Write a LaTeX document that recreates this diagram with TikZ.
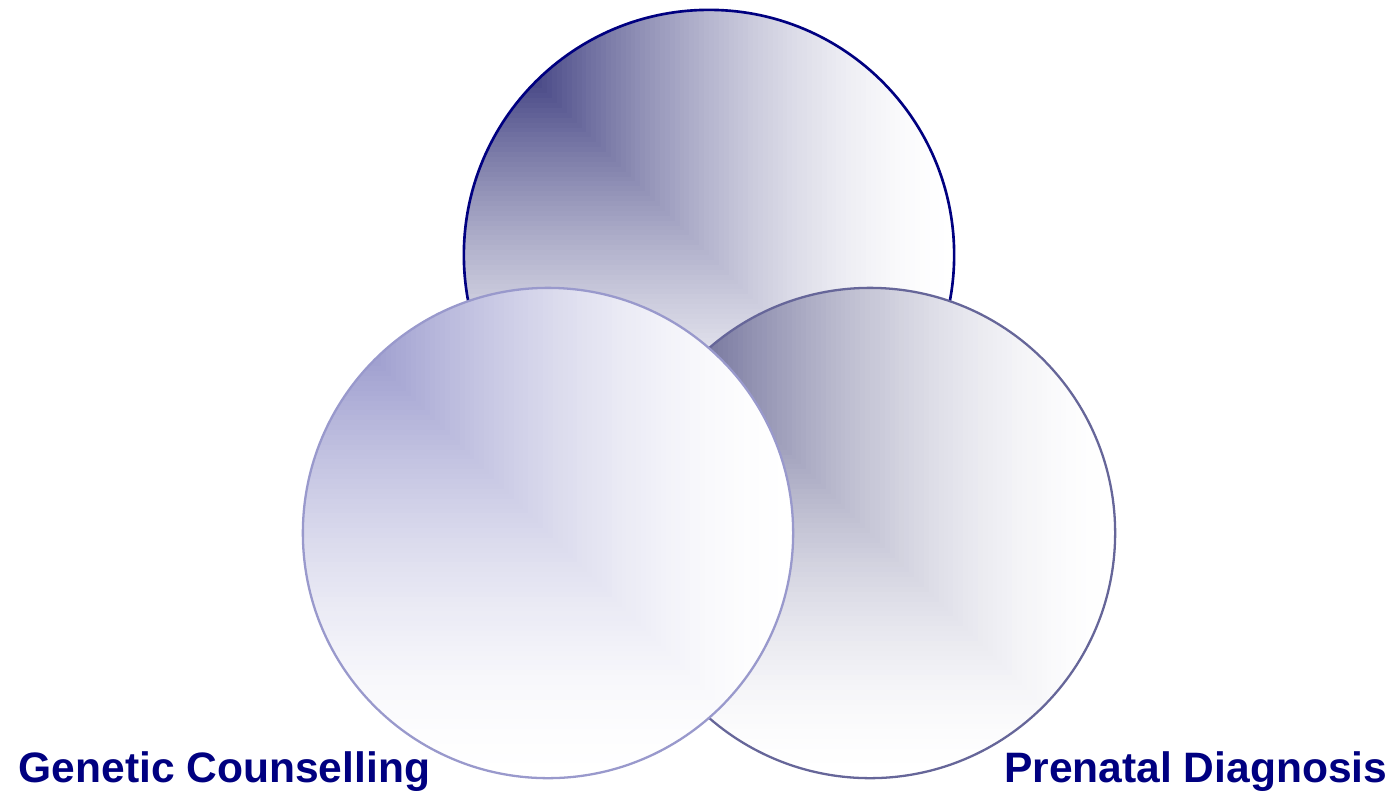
\documentclass[tikz,border=0pt]{standalone}
\usepackage{fontspec}
\setsansfont{Liberation Sans}
\usetikzlibrary{calc}
\definecolor{navytext}{RGB}{0,0,128}
\definecolor{topdark}{RGB}{17,17,98}
\definecolor{topline}{RGB}{0,0,128}
\definecolor{gcdark}{RGB}{130,130,193}
\definecolor{gcline}{RGB}{153,153,204}
\definecolor{pddark}{RGB}{72,72,125}
\definecolor{pdline}{RGB}{102,102,153}

\begin{document}
\begin{tikzpicture}[
            x=0.01cm, y=-0.01cm,
            disc/.style={circle, inner sep=0pt, minimum size=4.9cm, fill=white, line width=0.65pt},
            cornershade/.style={path picture={
                \foreach \i [evaluate=\i as \p using 100*(1-(\i-0.5)/100)^1.7] in {100,99,...,1}
                    \fill[#1!\p] (path picture bounding box.north west) rectangle
                        ($(path picture bounding box.north west)!\i/100!(path picture bounding box.south east)$);}},
            caption/.style={font=\sffamily\bfseries\fontsize{12.1}{14}\selectfont, text=navytext, inner sep=0pt}
        ]
        \useasboundingbox (0,0) rectangle (1397,793);
        \node[disc, draw=topline, line width=0.75pt, cornershade=topdark] (genetics) at (709,255) {};
        \node[disc, draw=pdline, cornershade=pddark] (prenatal) at (870,533) {};
        \node[disc, draw=gcline, cornershade=gcdark] (counsel) at (548,533) {};

        \node[caption, anchor=base west] (counsellabel) at (18,782) {Genetic Counselling};
        \node[caption, anchor=base east] (prenatallabel) at (1388,782) {Prenatal Diagnosis};
        \end{tikzpicture}
\end{document}
